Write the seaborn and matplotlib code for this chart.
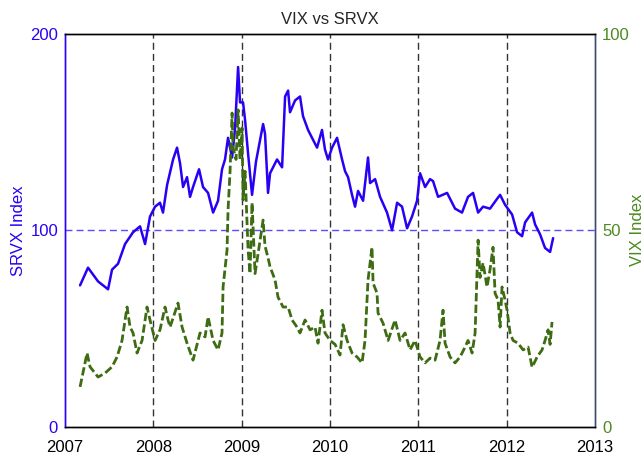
"""
VIX vs SRVX, two y axes.
"""

import matplotlib
matplotlib.use('Agg')
import matplotlib.pyplot as plt
import seaborn as sns
import pandas as pd

# SRVX (left axis)
srvx_year = [2007.170, 2007.260, 2007.374, 2007.487, 2007.532, 2007.600, 2007.679, 2007.770,
             2007.849, 2007.906, 2007.962, 2008.019, 2008.075, 2008.109, 2008.155, 2008.223,
             2008.268, 2008.302, 2008.336, 2008.381, 2008.415, 2008.449, 2008.517, 2008.562,
             2008.619, 2008.676, 2008.732, 2008.777, 2008.811, 2008.845, 2008.891, 2008.925,
             2008.959, 2008.981, 2009.015, 2009.038, 2009.072, 2009.117, 2009.162, 2009.242,
             2009.264, 2009.298, 2009.321, 2009.400, 2009.457, 2009.491, 2009.525, 2009.547,
             2009.604, 2009.660, 2009.694, 2009.751, 2009.796, 2009.853, 2009.909, 2009.943,
             2009.977, 2010.023, 2010.079, 2010.136, 2010.170, 2010.204, 2010.249, 2010.283,
             2010.317, 2010.374, 2010.430, 2010.453, 2010.510, 2010.566, 2010.645, 2010.702,
             2010.759, 2010.815, 2010.872, 2010.928, 2010.985, 2011.019, 2011.076, 2011.132,
             2011.166, 2011.223, 2011.325, 2011.415, 2011.494, 2011.562, 2011.619, 2011.676,
             2011.732, 2011.811, 2011.891, 2011.925, 2011.981, 2012.061, 2012.117, 2012.174,
             2012.208, 2012.287, 2012.321, 2012.377, 2012.434, 2012.491, 2012.525]
srvx_value = [72, 81, 74, 70, 80, 83, 93, 99,
              102, 93, 107, 112, 114, 109, 123, 136,
              142, 134, 122, 127, 117, 122, 131, 122,
              119, 109, 115, 131, 136, 147, 137, 152,
              183, 165, 165, 156, 139, 118, 135, 154,
              149, 119, 129, 136, 132, 168, 171, 160,
              166, 168, 158, 151, 147, 142, 151, 141,
              136, 142, 147, 136, 130, 127, 118, 112,
              120, 115, 137, 124, 126, 117, 109, 100,
              114, 112, 101, 107, 115, 129, 122, 126,
              125, 117, 119, 111, 109, 117, 119, 109,
              112, 111, 116, 118, 113, 108, 99, 97,
              104, 109, 103, 98, 91, 89, 96]

# VIX (right axis)
vix_year = [2007.170, 2007.249, 2007.283, 2007.374, 2007.453, 2007.532, 2007.589, 2007.645,
            2007.702, 2007.736, 2007.770, 2007.815, 2007.872, 2007.928, 2007.962, 2008.019,
            2008.075, 2008.132, 2008.166, 2008.189, 2008.279, 2008.325, 2008.381, 2008.449,
            2008.528, 2008.585, 2008.619, 2008.676, 2008.732, 2008.777, 2008.789, 2008.834,
            2008.845, 2008.868, 2008.891, 2008.902, 2008.936, 2008.959, 2008.981, 2009.004,
            2009.015, 2009.038, 2009.072, 2009.094, 2009.117, 2009.151, 2009.185, 2009.242,
            2009.264, 2009.298, 2009.321, 2009.377, 2009.411, 2009.468, 2009.525, 2009.570,
            2009.626, 2009.660, 2009.717, 2009.774, 2009.830, 2009.864, 2009.909, 2009.943,
            2010.000, 2010.057, 2010.113, 2010.147, 2010.193, 2010.249, 2010.306, 2010.362,
            2010.396, 2010.430, 2010.475, 2010.487, 2010.532, 2010.543, 2010.600, 2010.657,
            2010.736, 2010.793, 2010.849, 2010.906, 2010.962, 2011.019, 2011.076, 2011.132,
            2011.189, 2011.245, 2011.279, 2011.302, 2011.359, 2011.415, 2011.472, 2011.528,
            2011.562, 2011.608, 2011.642, 2011.676, 2011.698, 2011.732, 2011.777, 2011.811,
            2011.845, 2011.868, 2011.902, 2011.925, 2011.947, 2011.981, 2012.004, 2012.038,
            2012.072, 2012.128, 2012.185, 2012.242, 2012.287, 2012.344, 2012.400, 2012.434,
            2012.468, 2012.491, 2012.513]
vix_value = [10.2, 18.8, 15.3, 12.7, 13.7, 15.3, 17.8, 22,
             30.5, 25.4, 23.9, 18.8, 22, 30.5, 27.2, 22,
             24.7, 30.5, 27.2, 25.4, 31.5, 25.4, 21.3, 17,
             23.9, 22.9, 28, 22, 19.6, 23.9, 35.6, 45,
             55, 65, 79.8, 71, 68, 80.6, 68, 76,
             57.7, 65, 45, 39, 57, 39, 44, 52.6,
             46, 43, 40.7, 37.4, 33, 30.5, 30.5, 27.2,
             25.4, 23.9, 27.2, 24.7, 25.4, 21.3, 29.7, 23.9,
             22, 21, 18.3, 26, 22, 18.8, 17.8, 16.3,
             22, 37.4, 45.7, 36.6, 34, 29, 26.4, 22,
             27.2, 22, 23.9, 19.6, 22, 17.8, 16.3, 17.5,
             17, 22, 29.7, 21.3, 17.8, 16.3, 17.8, 20.3,
             22, 18.8, 23.9, 47.5, 38, 41.7, 35.6, 40,
             45.7, 34, 32.3, 25.4, 35.6, 32.3, 29.7, 23.9,
             22, 21.3, 19.6, 20.3, 15.2, 17.8, 19.6, 22,
             24.7, 21, 26.7]

year_ticks = [2007, 2008, 2009, 2010, 2011, 2012, 2013]

blue = '#2a00f5'
green = '#3d6c13'

sns.set_style('white')
plt.rcParams['font.family'] = ['Liberation Sans', 'DejaVu Sans']

srvx = pd.DataFrame({'year': srvx_year, 'SRVX': srvx_value})
vix = pd.DataFrame({'year': vix_year, 'VIX': vix_value})

fig = plt.figure(figsize=(6.44, 4.57), dpi=100)
ax = fig.add_axes([0.101, 0.0656, 0.823, 0.861])

# year gridlines and the 100/50 line
for yr in year_ticks[1:-1]:
    ax.axvline(yr, color='#333333', lw=1, ls=(0, (5, 3)), zorder=1)
ax.axhline(100, color='#5a4cff', lw=1, ls=(0, (5, 3)), zorder=1)

sns.lineplot(data=srvx, x='year', y='SRVX', ax=ax, color=blue, lw=1.8, zorder=3)
ax.set_xlim(2007, 2013)
ax.set_ylim(0, 200)
ax.set_yticks([0, 100, 200])
ax.set_xticks(year_ticks)
ax.set_xticklabels([str(y) for y in year_ticks])
ax.set_xlabel('')
ax.set_ylabel('SRVX Index', color=blue, fontsize=12, labelpad=3)
ax.tick_params(axis='y', colors=blue, length=0, labelsize=12, pad=5)
ax.tick_params(axis='x', colors='black', length=0, labelsize=12, pad=9)
ax.set_title('VIX vs SRVX', fontsize=12, pad=7)

ax2 = ax.twinx()
sns.lineplot(data=vix, x='year', y='VIX', ax=ax2, color=green, lw=2.0,
             ls=(0, (3, 1.2)), zorder=2)
ax2.set_ylim(0, 100)
ax2.set_yticks([0, 50, 100])
ax2.set_ylabel('VIX Index', color='#4b8a22', fontsize=12, labelpad=0)
ax2.tick_params(axis='y', colors='#4b8a22', length=0, labelsize=12, pad=5)

for a in (ax, ax2):
    a.spines['top'].set_color('black')
    a.spines['bottom'].set_color('black')
    a.spines['left'].set_color(blue)
    a.spines['right'].set_color('#3c4a70')
    for s in a.spines.values():
        s.set_linewidth(1)

fig.savefig('out.png', dpi=100)
